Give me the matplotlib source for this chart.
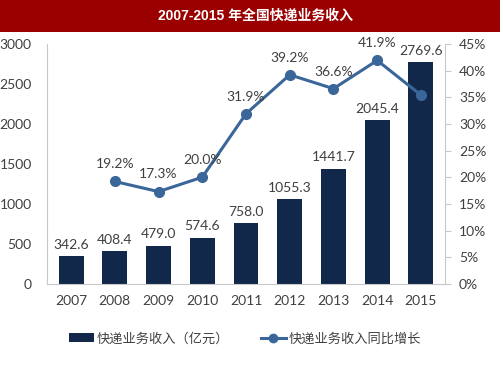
import matplotlib
matplotlib.use("Agg")
import matplotlib.pyplot as plt
from matplotlib.lines import Line2D
from matplotlib.patches import Patch

plt.rcParams['font.family'] = ['Lato', 'Noto Sans CJK SC', 'DejaVu Sans']

years = ['2007', '2008', '2009', '2010', '2011', '2012', '2013', '2014', '2015']
revenue = [342.6, 408.4, 479.0, 574.6, 758.0, 1055.3, 1441.7, 2045.4, 2769.6]
growth_years = ['2008', '2009', '2010', '2011', '2012', '2013', '2014', '2015']
growth = [19.2, 17.3, 20.0, 31.9, 39.2, 36.6, 41.9, 35.4]
growth_labels = ['19.2%', '17.3%', '20.0%', '31.9%', '39.2%', '36.6%', '41.9%', '']
title = '2007-2015 年全国快递业务收入'
bar_name = '快递业务收入（亿元）'
line_name = '快递业务收入同比增长'

bar_color = '#12284a'
line_color = '#3a6699'
text_color = '#404040'

fig = plt.figure(figsize=(5, 3.75), dpi=100)
fig.patch.set_facecolor('white')

# title bar
fig.patches.append(plt.Rectangle((0, 1 - 32/375), 1, 32/375, transform=fig.transFigure,
                                 facecolor='#9b0000', edgecolor='none', zorder=0))
fig.text(0.51, 1 - 16/375, title, color='white', fontsize=10, fontweight='bold',
         ha='center', va='center', family=['Liberation Sans', 'Noto Sans CJK SC'])

ax = fig.add_axes([0.094, 0.243, 0.796, 0.64])
x = list(range(len(years)))
ax.bar(x, revenue, width=0.57, color=bar_color, zorder=2)
for xi, v in zip(x, revenue):
    ax.annotate(f'{v:.1f}', (xi, v), xytext=(0, 4), textcoords='offset points',
                ha='center', va='bottom', fontsize=10, color=text_color)
ax.set_ylim(0, 3000)
ax.set_yticks(range(0, 3001, 500))
ax.set_xlim(-0.55, len(years) - 0.45)
ax.set_xticks(x)
ax.set_xticklabels(years)
ax.tick_params(axis='y', length=0, labelsize=10, labelcolor=text_color, pad=11)
ax.tick_params(axis='x', length=0, labelsize=10, labelcolor=text_color, pad=8)
for s in ['top', 'right']:
    ax.spines[s].set_visible(False)
ax.spines['left'].set_color('#c8c8c8')
ax.spines['bottom'].set_color('#c8c8c8')

ax2 = ax.twinx()
gx = [years.index(y) for y in growth_years]
ax2.plot(gx, growth, color=line_color, lw=2.2, marker='o', markersize=7, zorder=3)
for xi, v, lab in zip(gx, growth, growth_labels):
    if lab:
        ax2.annotate(lab, (xi, v), xytext=(0, 8), textcoords='offset points',
                     ha='center', va='bottom', fontsize=10, color=text_color)
ax2.set_ylim(0, 45)
ax2.set_yticks(range(0, 46, 5))
ax2.set_yticklabels([f'{t}%' for t in range(0, 46, 5)])
ax2.tick_params(axis='y', length=4, color='#c8c8c8', labelsize=10, labelcolor=text_color, pad=6)
for s in ['top', 'left', 'bottom']:
    ax2.spines[s].set_visible(False)
ax2.spines['right'].set_color('#c8c8c8')

handles = [Patch(facecolor=bar_color, edgecolor='none'),
           Line2D([0], [0], color=line_color, lw=2.2, marker='o', markersize=6)]
fig.legend(handles, [bar_name, line_name], loc='center', bbox_to_anchor=(0.49, 1 - 338/375),
           ncol=2, frameon=False, fontsize=9.5, handlelength=1.9, columnspacing=2.4,
           handletextpad=0.2, labelcolor=text_color)

fig.savefig('out.png', dpi=100)
